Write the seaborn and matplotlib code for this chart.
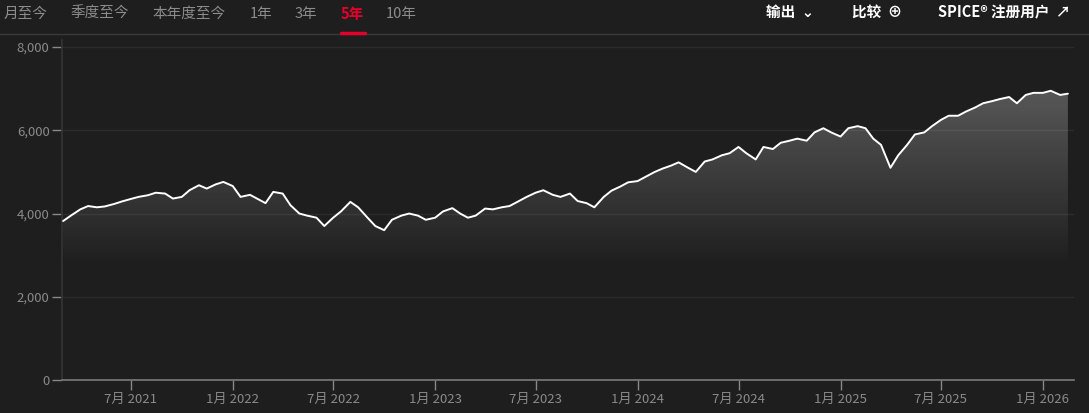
import numpy as np
import pandas as pd
import matplotlib
matplotlib.use("Agg")
import matplotlib.pyplot as plt
import matplotlib.dates as mdates
from matplotlib.patches import Polygon
import seaborn as sns

# semi-monthly index levels, Mar 2021 .. Feb 2026
values = [
    3820, 3950, 4100, 4180, 4150, 4170, 4230, 4290, 4350, 4400,
    4440, 4500, 4480, 4360, 4400, 4560, 4680, 4600, 4700, 4760,
    4660, 4400, 4450, 4350, 4250, 4520, 4480, 4200, 4000, 3950, 3900, 3700,
    3900, 4050, 4280, 4150, 3900, 3700, 3600, 3850, 3950, 4000, 3950, 3850,
    3900, 4050, 4130, 4000, 3900, 3950, 4120, 4100, 4150, 4180, 4300, 4400,
    4500, 4560, 4450, 4400, 4480, 4300, 4250, 4150, 4400, 4550, 4650, 4750,
    4780, 4880, 5000, 5080, 5150, 5230, 5100, 5000, 5250, 5300, 5400, 5450,
    5600, 5450, 5300, 5600, 5550, 5700, 5750, 5800, 5750, 5950, 6050, 5950,
    5850, 6050, 6100, 6050, 5800, 5650, 5100, 5400, 5650, 5900, 5950, 6100,
    6250, 6350, 6350, 6450, 6550, 6650, 6700, 6750, 6800, 6650, 6850, 6900,
    6900, 6950, 6850, 6880,
]
dates = pd.date_range("2021-03-01", periods=len(values), freq="SMS")
df = pd.DataFrame({"date": dates, "value": values})

tabs = ["月至今", "季度至今", "本年度至今", "1年", "3年", "5年", "10年"]
tab_x = [4, 70, 152, 250, 295, 341, 386]
tick_dates = pd.to_datetime(["2021-07-01", "2022-01-01", "2022-07-01", "2023-01-01",
                             "2023-07-01", "2024-01-01", "2024-07-01", "2025-01-01",
                             "2025-07-01", "2026-01-01"])
tick_labels = [f"{d.month}月 {d.year}" for d in tick_dates]

bg = "#1e1e1e"
sns.set_theme(style="dark")
plt.rcParams["font.family"] = ["Noto Sans CJK SC", "DejaVu Sans"]

W, H = 1089, 413
fig = plt.figure(figsize=(W / 100, H / 100), dpi=100, facecolor=bg)
ax = fig.add_axes([62 / W, (H - 380) / H, (1074 - 62) / W, 340 / H])
ax.set_facecolor(bg)

xmin, xmax = mdates.date2num(pd.Timestamp("2021-02-27")), mdates.date2num(pd.Timestamp("2026-02-26"))
ymax = 8170
ax.set_xlim(xmin, xmax)
ax.set_ylim(0, ymax)

# gradient fill under the line
grad = np.zeros((256, 2, 4))
t = np.linspace(1, 0, 256)[:, None]
grad[..., :3] = 1
grad[..., 3] = np.clip((t * ymax - 2700) / (7000 - 2700), 0, 1) * 0.26
im = ax.imshow(grad, extent=[xmin, xmax, 0, ymax], aspect="auto", origin="upper", zorder=1)
xs = mdates.date2num(df["date"])
poly = Polygon(np.column_stack([np.r_[xs, xs[-1], xs[0]], np.r_[df["value"], 0, 0]]),
               closed=True, transform=ax.transData, facecolor="none", edgecolor="none")
ax.add_patch(poly)
im.set_clip_path(poly)

sns.lineplot(data=df, x="date", y="value", ax=ax, color="white", linewidth=1.4, zorder=3)

for yv in [2000, 4000, 6000, 8000]:
    ax.axhline(yv, color="#2c2c2c", linewidth=1, zorder=0)
ax.grid(False)
ax.set_yticks([0, 2000, 4000, 6000, 8000])
ax.set_yticklabels(["0", "2,000", "4,000", "6,000", "8,000"])
ax.set_xticks(mdates.date2num(tick_dates))
ax.set_xticklabels(tick_labels)
ax.tick_params(axis="both", colors="#888888", labelcolor="#8a8a8a", labelsize=9.5,
               length=7, width=1, direction="out", pad=2, left=True, bottom=True)
ax.set_xlabel("")
ax.set_ylabel("")
for s in ["top", "right"]:
    ax.spines[s].set_visible(False)
ax.spines["bottom"].set_color("#777777")
ax.spines["left"].set_color("#333333")

# header
for lab, x in zip(tabs, tab_x):
    sel = lab == "5年"
    fig.text(x / W, 1 - 14 / H, lab, color="#e4002b" if sel else "#8c8c8c",
             fontsize=10.5, fontweight="bold" if sel else "normal", va="center")
fig.add_artist(plt.Line2D([0, 1], [1 - 34 / H] * 2, color="#3a3a3a", linewidth=1))
fig.add_artist(plt.Line2D([341 / W, 365 / W], [1 - 33 / H] * 2, color="#e4002b", linewidth=2.5))
fig.text(766 / W, 1 - 12 / H, "输出  ⌄", color="white", fontsize=10.5, fontweight="bold", va="center")
fig.text(852 / W, 1 - 12 / H, "比较  ⊕", color="white", fontsize=10.5, fontweight="bold", va="center")
fig.text(938 / W, 1 - 12 / H, "SPICE® 注册用户  ↗", color="white", fontsize=10.5, fontweight="bold", va="center")

fig.savefig("out.png", dpi=100, facecolor=bg)
